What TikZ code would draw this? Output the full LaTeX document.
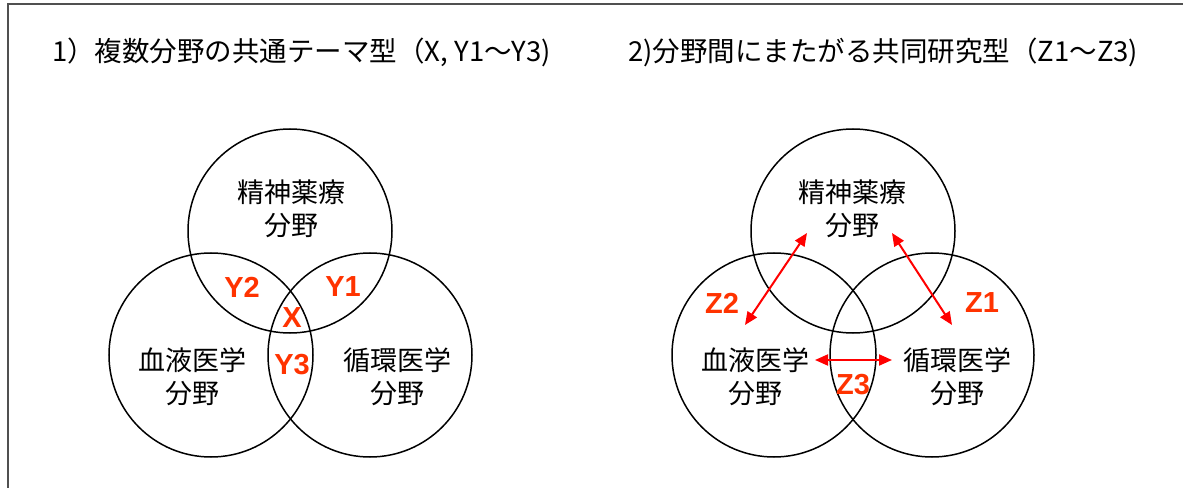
\documentclass[tikz,border=0pt]{standalone}
\usepackage{fontspec}
\newfontfamily\jp{Noto Sans CJK JP}
\newfontfamily\lab{Liberation Sans}
\usetikzlibrary{arrows.meta}
\definecolor{labred}{RGB}{255,51,0}
\definecolor{arrred}{RGB}{255,0,0}
\definecolor{framegray}{RGB}{80,80,80}
\begin{document}
\begin{tikzpicture}[x=1bp,y=-1bp,
  field/.style={circle, draw, line width=1.5bp, minimum size=204bp, inner sep=0pt},
  jtext/.style={font=\jp\fontsize{27bp}{33bp}\selectfont, align=center, inner sep=0pt},
  ttext/.style={font=\jp\fontsize{27.5bp}{30bp}\selectfont, inner sep=0pt, anchor=west},
  zlab/.style={font=\lab\bfseries\fontsize{29bp}{29bp}\selectfont, text=labred, inner sep=0pt},
  dbl/.style={draw=arrred, line width=2bp, {Triangle[length=13bp,width=11bp]}-{Triangle[length=13bp,width=11bp]}}]
\useasboundingbox (0,0) rectangle (1183,488);
\fill[white] (0,0) rectangle (1183,488);
\draw[line width=2bp, framegray] (8,490) -- (8,4) -- (1185,4);

% titles
\node[ttext] (t1) at (52,52) {1）複数分野の共通テーマ型（X, Y1～Y3)};
\node[ttext] (t2) at (628,52) {2)分野間にまたがる共同研究型（Z1～Z3)};

% left Venn
\node[field] (T1) at (290,231) {};
\node[field] (L1) at (211,355) {};
\node[field] (R1) at (370,355) {};
\node[jtext] (tT1) at (291,208.5) {精神薬療\\分野};
\node[jtext] (tL1) at (192,377) {血液医学\\分野};
\node[jtext] (tR1) at (397,377) {循環医学\\分野};
\node[zlab] (y2) at (242,287) {Y2};
\node[zlab] (y1) at (343,287) {Y1};
\node[zlab] (x) at (292,318) {X};
\node[zlab] (y3) at (292,365) {Y3};

% right Venn
\node[field] (T2) at (853,231) {};
\node[field] (L2) at (774,355) {};
\node[field] (R2) at (932,355) {};
\node[jtext] (tT2) at (852,208.5) {精神薬療\\分野};
\node[jtext] (tL2) at (755,377) {血液医学\\分野};
\node[jtext] (tR2) at (957,377) {循環医学\\分野};
\node[zlab] (z2) at (722,303) {Z2};
\node[zlab] (z1) at (982,303) {Z1};
\node[zlab] (z3) at (853,385) {Z3};

\coordinate (a2t) at (807,233);
\coordinate (a2b) at (745,325);
\coordinate (a1t) at (892,233);
\coordinate (a1b) at (952,325);
\coordinate (a3l) at (815,360);
\coordinate (a3r) at (892,360);
\draw[dbl] (a2t) -- (a2b);
\draw[dbl] (a1t) -- (a1b);
\draw[dbl] (a3l) -- (a3r);
\end{tikzpicture}
\end{document}
